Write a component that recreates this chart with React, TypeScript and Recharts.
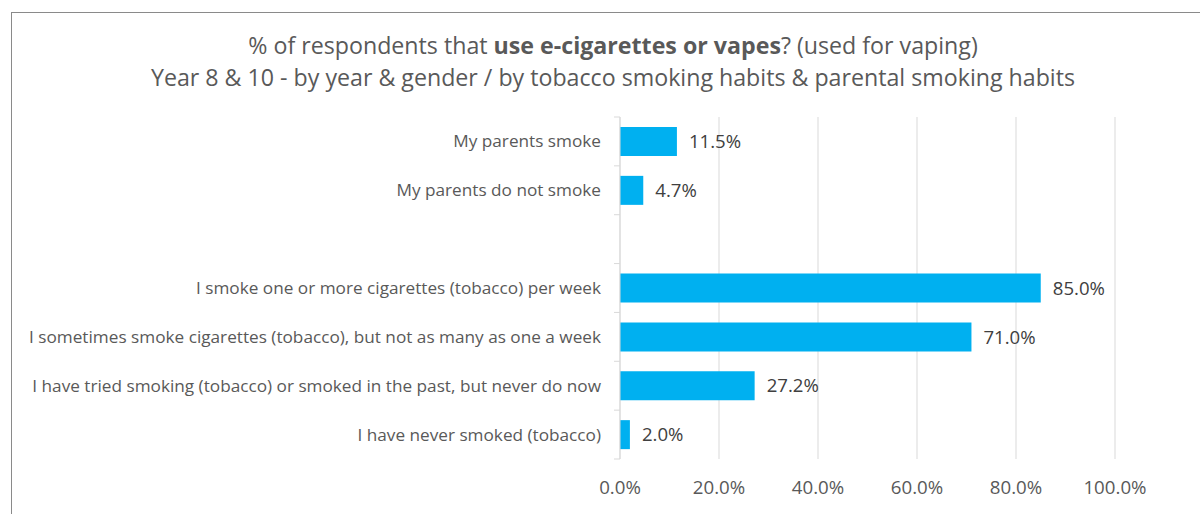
import React from "react";
import {
  BarChart,
  Bar,
  XAxis,
  YAxis,
  CartesianGrid,
  LabelList,
} from "recharts";

const categories = [
  "My parents smoke",
  "My parents do not smoke",
  "",
  "I smoke one or more cigarettes (tobacco) per week",
  "I sometimes smoke cigarettes (tobacco), but not as many as one a week",
  "I have tried smoking (tobacco) or smoked in the past, but never do now",
  "I have never smoked (tobacco)",
];
const vaping: (number | null)[] = [11.5, 4.7, null, 85.0, 71.0, 27.2, 2.0];
const xTicks = [0, 20, 40, 60, 80, 100];

const data = categories.map((name, i) => ({ key: `c${i}`, name, value: vaping[i] }));

const FONT = "'Open Sans', 'Noto Sans', sans-serif";
const PLOT_TOP = 117;
const PLOT_BOTTOM = 459;
const BAND = (PLOT_BOTTOM - PLOT_TOP) / categories.length;

function CategoryTick(props: any) {
  const { x, y, index } = props;
  const label = categories[index] ?? "";
  const axisX = x + 8;
  return (
    <g>
      <line x1={axisX - 6} x2={axisX} y1={y - BAND / 2} y2={y - BAND / 2} stroke="#d9d9d9" />
      {index === categories.length - 1 && (
        <line x1={axisX - 6} x2={axisX} y1={y + BAND / 2} y2={y + BAND / 2} stroke="#d9d9d9" />
      )}
      <text
        x={axisX - 19}
        y={y}
        dy={6}
        textAnchor="end"
        fill="#595959"
        fontSize={17.2}
        fontFamily={FONT}
      >
        {label}
      </text>
    </g>
  );
}

export default function App() {
  return (
    <div
      style={{
        position: "fixed",
        left: 0,
        top: 0,
        width: 1200,
        height: 514,
        overflow: "hidden",
        background: "#fff",
      }}
    >
      <div
        style={{
          position: "absolute",
          left: 11,
          top: 12,
          width: 1300,
          height: 600,
          border: "1.5px solid #8a8a8a",
        }}
      />
      <div
        style={{
          position: "absolute",
          left: 0,
          top: 29,
          width: 1226,
          textAlign: "center",
          fontFamily: FONT,
          fontSize: 23.2,
          lineHeight: "32px",
          color: "#595959",
        }}
      >
        <div>
          % of respondents that <b>use e-cigarettes or vapes</b>? (used for vaping)
        </div>
        <div>Year 8 &amp; 10 - by year &amp; gender / by tobacco smoking habits &amp; parental smoking habits</div>
      </div>
      <div style={{ position: "absolute", left: 0, top: 0 }}>
        <BarChart
          width={1200}
          height={514}
          data={data}
          layout="vertical"
          barSize={29}
          margin={{ top: PLOT_TOP, right: 85, bottom: 514 - PLOT_BOTTOM - 40, left: 0 }}
        >
          <CartesianGrid horizontal={false} stroke="#d9d9d9" />
          <XAxis
            type="number"
            domain={[0, 100]}
            ticks={xTicks}
            height={40}
            axisLine={false}
            tickLine={false}
            tickFormatter={(v: number) => `${v.toFixed(1)}%`}
            tick={{ fill: "#595959", fontSize: 18.7, fontFamily: FONT, dy: 14 }}
          />
          <YAxis
            type="category"
            dataKey="key"
            width={620}
            axisLine={{ stroke: "#d9d9d9" }}
            tickLine={false}
            interval={0}
            tick={<CategoryTick />}
          />
          <Bar dataKey="value" fill="#00b0f0" isAnimationActive={false}>
            <LabelList
              dataKey="value"
              position="right"
              offset={12}
              formatter={(v: any) => (v == null ? "" : `${Number(v).toFixed(1)}%`)}
              fill="#404040"
              fontSize={18.6}
              fontFamily={FONT}
            />
          </Bar>
        </BarChart>
      </div>
    </div>
  );
}
